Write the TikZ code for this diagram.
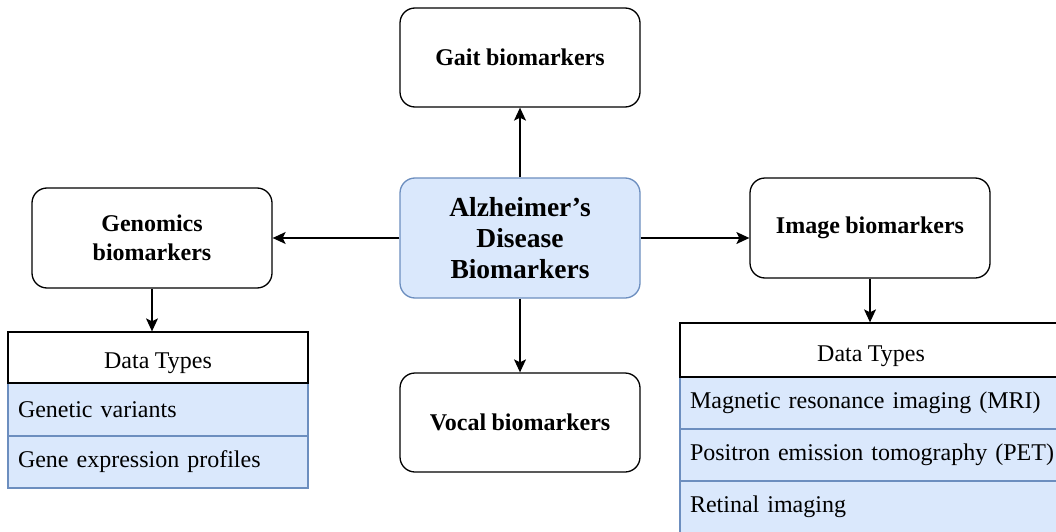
\documentclass[tikz,border=0pt]{standalone}
\usepackage{fontspec}
\setmainfont{Liberation Serif}[WordSpace=0.9]
\usetikzlibrary{arrows.meta,positioning}
\definecolor{bfill}{HTML}{DAE8FC}
\definecolor{bdraw}{HTML}{6C8EBF}
\tikzset{
  rbox/.style={draw=black, line width=1.3pt, rounded corners=15pt, fill=white,
    minimum width=240pt, align=center, font=\fontsize{24}{29}\selectfont\bfseries},
  cbox/.style={rbox, draw=bdraw, fill=bfill, minimum height=120pt,
    font=\fontsize{27.5}{31}\selectfont\bfseries},
  thead/.style={draw=black, line width=1.3pt, fill=white, inner sep=0pt,
    text height=22pt, text depth=0pt, font=\fontsize{24}{29}\selectfont},
  trow/.style={draw=bdraw, line width=1.3pt, fill=bfill, inner ysep=0pt, inner xsep=10pt,
    align=left, font=\fontsize{24}{29}\selectfont},
  arr/.style={line width=1.3pt, -{Stealth[width=12pt,length=13pt,inset=3pt]}}
}
\begin{document}
\begin{tikzpicture}[x=1pt,y=-1pt]
\clip (0,0) rectangle (1056,532);
\fill[white] (0,0) rectangle (1056,532);
\node[rbox, minimum height=99pt] (gait) at (520,57.5) {Gait biomarkers};
\node[cbox] (ad) at (520,238) {Alzheimer’s\\Disease\\Biomarkers};
\node[rbox, minimum height=100pt] (gen) at (152,238) {Genomics\\biomarkers};
\node[rbox, minimum height=100pt] (img) at (870,228) {Image biomarkers};
\node[rbox, minimum height=99pt] (voc) at (520,422.5) {Vocal biomarkers};
% left table
\node[trow, text width=280pt, minimum height=53pt] (lr1) at (158,409.5) {\mbox{Genetic variants}};
\node[trow, text width=280pt, minimum height=52pt] (lr2) at (158,462) {\mbox{Gene expression profiles}};
\node[thead, minimum width=300pt, minimum height=51pt] (lh) at (158,357.5) {Data Types};
% right table
\node[trow, text width=362pt, minimum height=52pt] (rr1) at (871,403) {\mbox{Magnetic resonance imaging (MRI)}};
\node[trow, text width=362pt, minimum height=52pt] (rr2) at (871,455) {\mbox{Positron emission tomography (PET)}};
\node[trow, text width=362pt, minimum height=52pt] (rr3) at (871,507) {\mbox{Retinal imaging}};
\node[thead, minimum width=382pt, minimum height=54pt] (rh) at (871,350) {Data Types};
% arrows
\draw[arr] (ad.north) -- (gait.south);
\draw[arr] (ad.south) -- (voc.north);
\draw[arr] (ad.west) -- (gen.east);
\draw[arr] (ad.east) -- (ad.east -| img.west);
\draw[arr] (gen.south) -- (gen.south |- lh.north);
\draw[arr] (img.south) -- (img.south |- rh.north);
\end{tikzpicture}
\end{document}
